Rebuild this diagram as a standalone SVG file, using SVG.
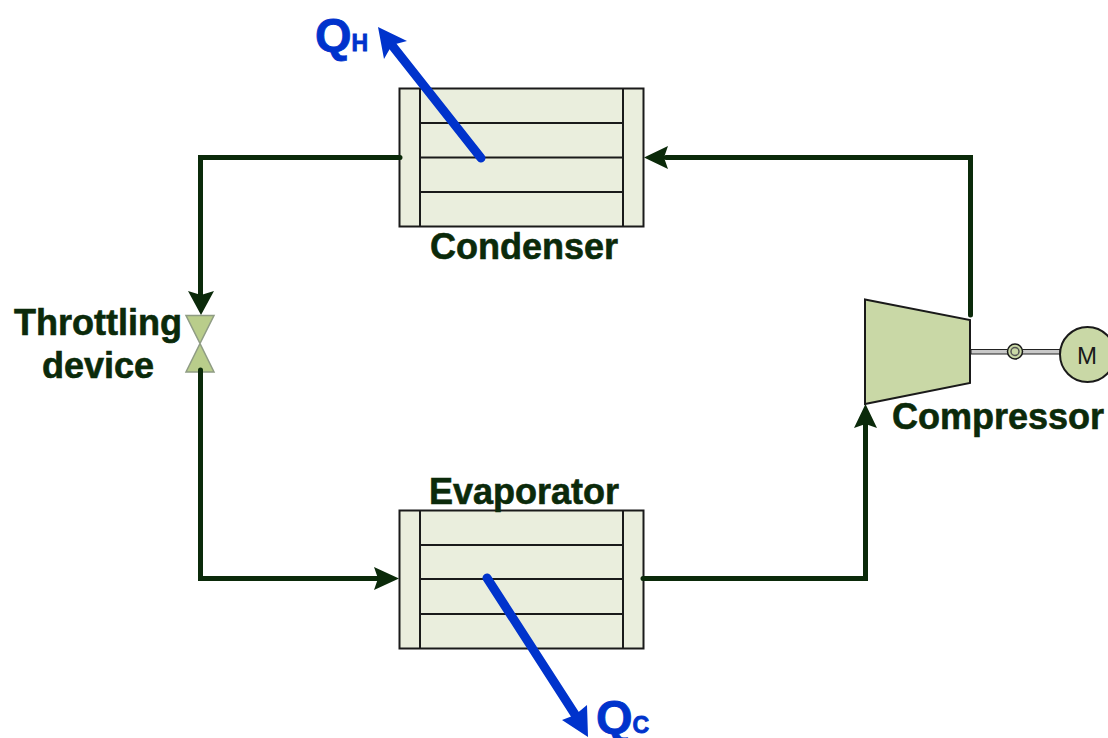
<svg xmlns="http://www.w3.org/2000/svg" width="1108" height="738" viewBox="0 0 1108 738">
<style>
.hx{fill:#eaeedd;stroke:#1a1a1a;stroke-width:2}
.ln{stroke:#1a1a1a;stroke-width:2;fill:none}
.pipe{fill:none;stroke:#0b2a0a;stroke-width:5;stroke-linecap:round;stroke-linejoin:miter}
.heat{fill:none;stroke:#0033cc;stroke-width:9;stroke-linecap:round}
.gh{fill:#0b2a0a}
.bh{fill:#0033cc}
.lbl{font-family:"Liberation Sans",Arial,sans-serif;font-weight:700;font-size:36px;fill:#0b2a0a;stroke:#0b2a0a;stroke-width:.6;text-anchor:middle}
.q{font-family:"Liberation Sans",Arial,sans-serif;font-weight:700;fill:#0033cc;stroke:#0033cc;stroke-width:.8}
.part{fill:#c9d8a6;stroke:#1a1a1a;stroke-width:2}
</style>
<g id="condenser">
<rect class="hx" x="399.500" y="88.500" width="244" height="138"/>
<path class="ln" d="M420 88.500V226.500M623 88.500V226.500M420 123H623M420 157.500H623M420 192H623"/>
<text class="lbl" x="524" y="259">Condenser</text>
</g>
<g id="evaporator">
<rect class="hx" x="399.500" y="510.500" width="244" height="138"/>
<path class="ln" d="M420 510.500V648.500M623 510.500V648.500M420 545H623M420 579H623M420 614H623"/>
<text class="lbl" x="524" y="504">Evaporator</text>
</g>
<g id="throttling-device">
<polygon points="186,315.500 214,315.500 200,343.500 214,372 186,372 200,343.500" fill="#b9cd8b" stroke="#8f9c84" stroke-width="1.500"/>
<text class="lbl" x="98" y="335">Throttling</text>
<text class="lbl" x="98" y="378">device</text>
</g>
<g id="compressor">
<polygon class="part" points="865,299.500 970,320 970,383 865,404"/>
<text class="lbl" x="998" y="429">Compressor</text>
</g>
<g id="shaft">
<rect x="971" y="349.500" width="89" height="4.500" fill="#c8c8c8" stroke="#222" stroke-width="1"/>
<circle cx="1015" cy="351.500" r="7.500" fill="#c9d8a6" stroke="#1a1a1a" stroke-width="1.500"/>
<circle cx="1015" cy="351.500" r="4" fill="#c9d8a6" stroke="#555" stroke-width="1.500"/>
</g>
<g id="motor">
<circle cx="1087.500" cy="354.500" r="27.500" fill="#c9d8a6" stroke="#1a1a1a" stroke-width="2"/>
<text x="1087" y="364" font-family="Liberation Sans, Arial, sans-serif" font-size="24" fill="#1a1a1a" text-anchor="middle">M</text>
</g>
<g id="connectors">
<path class="pipe" d="M400 157.500H200.500V296"/>
<polygon class="gh" points="201,315 188,291 201,295 214,291"/>
<path class="pipe" d="M200.500 370V578.500H380"/>
<polygon class="gh" points="399,578.500 374,567 378,578.500 374,590"/>
<path class="pipe" d="M643 578.500H865.500V424"/>
<polygon class="gh" points="865.500,404 854,428 865.500,424 877,428"/>
<path class="pipe" d="M970.500 315V157.500H666"/>
<polygon class="gh" points="644,157.500 668,146 664,157.500 668,169"/>
</g>
<g id="heat-out">
<line class="heat" x1="481" y1="158" x2="391" y2="44"/>
<polygon class="bh" points="378,27 407,41 392,45 384,59"/>
<text class="q" x="315" y="51" font-size="47">Q<tspan font-size="23">H</tspan></text>
</g>
<g id="heat-in">
<line class="heat" x1="487" y1="578" x2="576" y2="716"/>
<polygon class="bh" points="588,737 562,720 575,715 587,705"/>
<text class="q" x="596" y="733" font-size="47">Q<tspan font-size="23">C</tspan></text>
</g>
</svg>
